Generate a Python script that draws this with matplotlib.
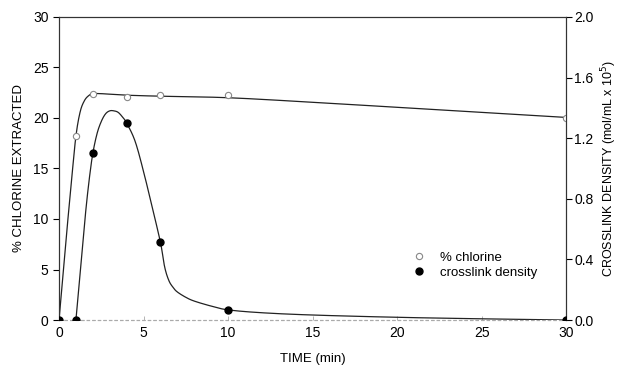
import numpy as np
import matplotlib.pyplot as plt

plt.rcParams['font.family'] = ['Liberation Sans', 'DejaVu Sans']

# measured points
time_pts = [0, 1, 2, 4, 6, 10, 30]
chlorine_pts = [0, 18.2, 22.4, 22.1, 22.3, 22.3, 20.0]
xlink_pts = [0, 0, 1.10, 1.30, 0.513, 0.067, 0.0]

# fitted curves
chl_fit_t = [0, 0.25, 0.5, 0.75, 1.0, 1.25, 1.5, 1.75, 2.0, 2.5, 3, 4, 6, 10, 15, 20, 25, 30]
chl_fit_y = [0, 4.8, 9.5, 14.0, 18.2, 20.6, 21.7, 22.2, 22.4, 22.4, 22.35, 22.25, 22.15, 22.0, 21.55, 21.05, 20.55, 20.05]
xl_fit_t = [1.0, 1.2, 1.4, 1.6, 1.8, 2.0, 2.25, 2.5, 2.75, 3.0, 3.25, 3.5, 3.75, 4.0, 4.5, 5.0, 5.5,
            6.0, 6.25, 6.5, 6.75, 7.0, 7.5, 8, 9, 10, 12, 15, 20, 25, 30]
xl_fit_y = [0, 0.25, 0.50, 0.74, 0.94, 1.10, 1.23, 1.31, 1.36, 1.38, 1.38, 1.37, 1.34, 1.30, 1.18, 0.98, 0.75,
            0.513, 0.35, 0.26, 0.215, 0.185, 0.15, 0.125, 0.092, 0.067, 0.048, 0.033, 0.018, 0.008, 0.0]


def smooth(xs, ys, n=20):
    # catmull-rom through the read knots, only to draw a smooth line
    x = np.asarray(xs, float)
    y = np.asarray(ys, float)
    px = np.concatenate([[2 * x[0] - x[1]], x, [2 * x[-1] - x[-2]]])
    py = np.concatenate([[2 * y[0] - y[1]], y, [2 * y[-1] - y[-2]]])
    outx, outy = [], []
    s = np.linspace(0, 1, n, endpoint=False)
    for i in range(1, len(px) - 2):
        for arr, out in ((px, outx), (py, outy)):
            p0, p1, p2, p3 = arr[i - 1:i + 3]
            out.extend(0.5 * (2 * p1 + (-p0 + p2) * s + (2 * p0 - 5 * p1 + 4 * p2 - p3) * s ** 2
                              + (-p0 + 3 * p1 - 3 * p2 + p3) * s ** 3))
    outx.append(x[-1])
    outy.append(y[-1])
    return outx, outy


fig = plt.figure(figsize=(6.18, 3.67), dpi=100)
ax = fig.add_axes([0.0955, 0.128, 0.8205, 0.826])
ax2 = ax.twinx()

ax.plot(*smooth(chl_fit_t, chl_fit_y), color='#222222', lw=0.9)
ax.plot(time_pts, chlorine_pts, 'o', mfc='white', mec='#888888', ms=4.5, mew=0.8,
        label='% chlorine', zorder=3)
ax2.plot(*smooth(xl_fit_t, xl_fit_y), color='#222222', lw=0.9)
ax2.plot([0, 1], [0, 0], color='#999999', lw=0.8, ls=(0, (2, 2)))
ax2.plot(time_pts, xlink_pts, 'o', color='black', ms=5, label='crosslink density', zorder=4)

ax.set_xlim(0, 30)
ax.set_ylim(0, 30)
ax2.set_ylim(0, 2.0)
ax.set_xticks([0, 5, 10, 15, 20, 25, 30])
ax.set_yticks([0, 5, 10, 15, 20, 25, 30])
ax2.set_yticks([0.0, 0.4, 0.8, 1.2, 1.6, 2.0])
ax2.set_yticklabels(['0.0', '0.4', '0.8', '1.2', '1.6', '2.0'])

for a in (ax, ax2):
    a.spines['bottom'].set_color('#aaaaaa')
    a.spines['bottom'].set_linestyle((0, (2, 3)))
    a.spines['bottom'].set_linewidth(0.8)
    for s in ('top', 'left', 'right'):
        a.spines[s].set_linewidth(0.8)
        a.spines[s].set_color('#333333')
ax.tick_params(axis='x', direction='in', length=3, width=0.6, color='#aaaaaa', labelsize=10, pad=4)
ax.tick_params(axis='y', direction='out', length=4, width=0.8, labelsize=10)
ax2.tick_params(axis='y', direction='out', length=4, width=0.8, labelsize=10, pad=2)

ax.set_xlabel('TIME (min)', fontsize=9.5, labelpad=10)
ax.set_ylabel('% CHLORINE EXTRACTED', fontsize=9.5, labelpad=6)
ax2.set_ylabel('CROSSLINK DENSITY (mol/mL x 10$^5$)', fontsize=9, labelpad=4)

h1, l1 = ax.get_legend_handles_labels()
h2, l2 = ax2.get_legend_handles_labels()
ax2.legend(h1 + h2, l1 + l2, loc='upper left', bbox_to_anchor=(0.67, 0.265), frameon=False,
           fontsize=9.5, handlelength=1.2, handletextpad=1.0, labelspacing=0.2)

fig.savefig('out.png', dpi=100)
